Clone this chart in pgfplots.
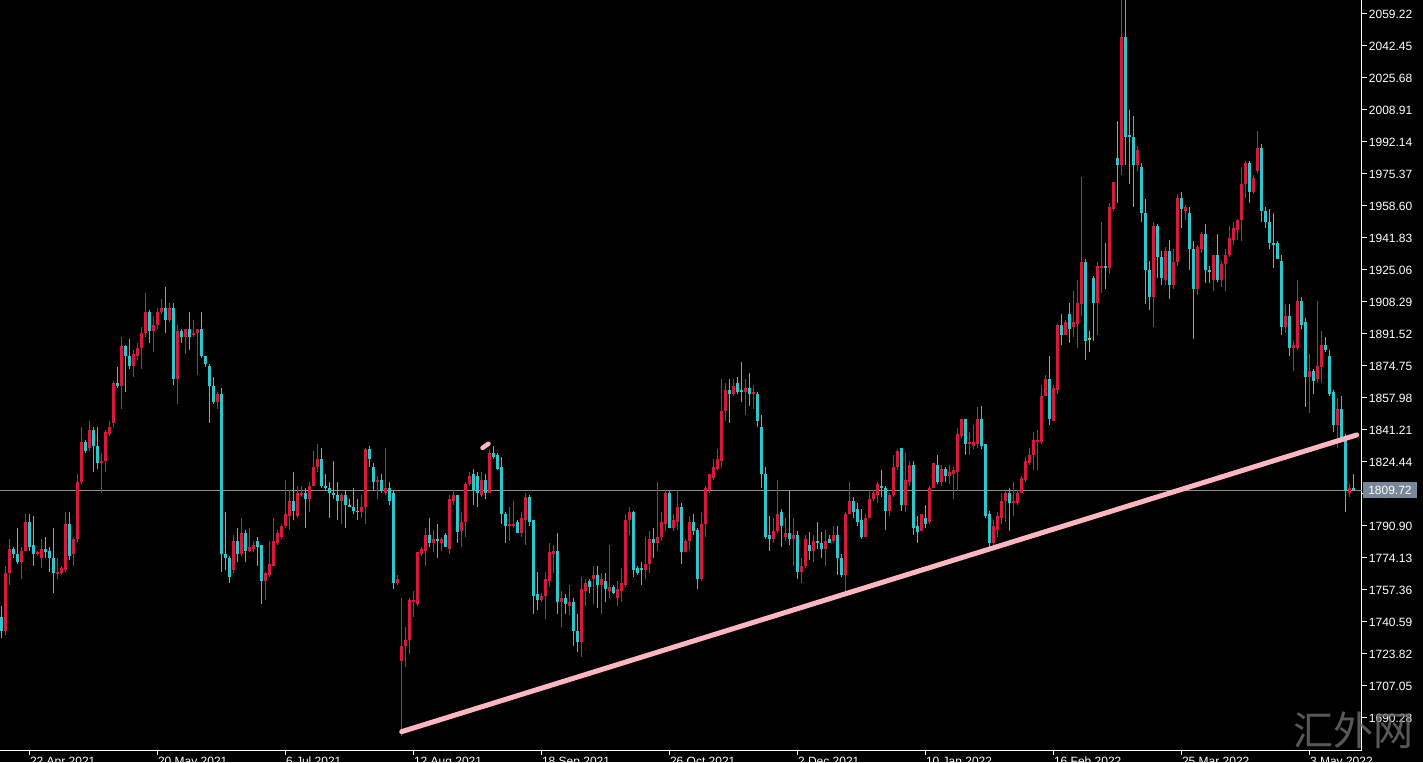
\documentclass[border=0pt]{standalone}
\usepackage{pgfplots}
\pgfplotsset{compat=1.18}
\usepackage{pgfplotstable}
\usepackage{fontspec}
\setmainfont{Liberation Sans}
\newfontfamily\cjk{Noto Sans CJK SC}

\definecolor{upc}{RGB}{215,25,60}
\definecolor{dnc}{RGB}{40,200,205}
\definecolor{dojic}{RGB}{90,220,90}
\definecolor{trend}{RGB}{255,182,193}
\definecolor{bidline}{RGB}{140,140,140}
\definecolor{bidbox}{RGB}{120,136,153}
\definecolor{wmark}{RGB}{110,110,110}

% daily candles, bar index i (0 = first bar on the left), open high low close
\pgfplotstableread{
i O H L C
1 1736 1770 1734 1766
2 1766 1784 1760 1779
5 1772 1780 1763 1778
6 1778 1797 1778 1793
9 1776 1778 1775 1777
10 1774 1784 1769 1779
14 1766 1774 1763 1767
15 1766 1770 1765 1769
16 1768 1798 1767 1792
18 1776 1785 1770 1784
19 1784 1818 1782 1814
20 1814 1843 1813 1835
22 1832 1846 1830 1841
25 1824 1829 1808 1825
26 1825 1841 1819 1840
27 1839 1846 1838 1843
28 1845 1867 1843 1866
30 1864 1890 1852 1885
33 1875 1883 1869 1881
34 1880 1887 1878 1884
35 1884 1895 1873 1892
36 1892 1913 1890 1903
38 1893 1901 1882 1896
39 1896 1905 1894 1903
40 1903 1910 1902 1905
42 1899 1908 1898 1905
44 1868 1896 1855 1893
46 1890 1894 1881 1894
48 1891 1899 1890 1892
49 1892 1894 1870 1894
54 1856 1861 1852 1860
58 1768 1786 1766 1783
60 1776 1795 1775 1787
62 1778 1790 1777 1780
63 1779 1783 1777 1781
66 1762 1767 1752 1766
67 1765 1783 1764 1771
68 1770 1795 1770 1783
69 1782 1789 1781 1787
70 1785 1792 1784 1791
71 1791 1815 1790 1797
72 1796 1810 1789 1804
74 1796 1812 1795 1808
75 1807 1812 1806 1808
77 1805 1814 1798 1812
78 1812 1830 1812 1822
79 1822 1834 1819 1826
85 1804 1808 1792 1807
90 1798 1807 1795 1801
91 1801 1832 1792 1831
94 1814 1817 1805 1815
96 1808 1832 1807 1811
99 1761 1765 1760 1763
100 1720 1753 1681 1728
101 1728 1738 1717 1731
102 1731 1753 1724 1752
103 1751 1757 1743 1752
104 1750 1777 1749 1777
105 1776 1780 1775 1779
106 1778 1790 1770 1786
108 1782 1789 1777 1784
110 1782 1785 1778 1784
112 1779 1807 1776 1805
113 1804 1810 1802 1807
115 1788 1798 1780 1793
116 1793 1814 1785 1813
117 1813 1819 1812 1817
120 1807 1819 1806 1815
122 1808 1831 1808 1829
127 1791 1801 1783 1792
128 1791 1804 1790 1792
130 1787 1798 1785 1795
131 1794 1808 1781 1806
135 1752 1756 1751 1754
136 1754 1767 1742 1763
137 1762 1782 1759 1777
138 1776 1781 1766 1778
140 1751 1757 1738 1753
142 1749 1760 1744 1751
145 1730 1764 1722 1758
146 1757 1763 1749 1761
148 1763 1770 1750 1765
150 1760 1766 1745 1763
152 1757 1781 1753 1759
154 1753 1762 1749 1758
155 1757 1769 1751 1761
156 1760 1797 1759 1794
157 1794 1801 1786 1798
161 1768 1785 1763 1771
162 1771 1788 1766 1784
164 1782 1814 1778 1785
165 1785 1798 1783 1793
166 1792 1810 1788 1808
168 1790 1797 1788 1794
169 1793 1810 1789 1801
171 1777 1784 1777 1783
172 1783 1796 1778 1793
175 1763 1798 1762 1792
176 1792 1812 1785 1811
177 1810 1818 1808 1818
178 1816 1826 1815 1822
179 1821 1831 1820 1826
180 1825 1868 1822 1851
181 1851 1866 1846 1862
183 1860 1868 1859 1864
186 1861 1868 1849 1863
188 1860 1865 1852 1861
193 1784 1795 1782 1788
194 1788 1815 1787 1797
196 1785 1795 1783 1787
198 1784 1795 1770 1786
200 1767 1774 1761 1770
201 1770 1786 1769 1784
203 1778 1786 1772 1783
206 1779 1789 1770 1783
208 1783 1791 1782 1786
211 1765 1798 1757 1797
212 1797 1814 1797 1804
216 1785 1797 1785 1795
217 1795 1810 1795 1805
218 1805 1810 1804 1808
219 1807 1814 1803 1813
222 1799 1808 1796 1807
223 1807 1828 1806 1822
224 1822 1831 1820 1830
226 1802 1829 1798 1815
227 1814 1825 1812 1823
230 1788 1797 1788 1797
232 1793 1812 1792 1811
233 1811 1824 1811 1824
235 1814 1823 1812 1821
237 1817 1823 1813 1819
238 1818 1822 1805 1820
239 1819 1842 1809 1839
240 1838 1847 1837 1847
242 1834 1840 1828 1835
243 1833 1844 1831 1835
244 1834 1853 1832 1847
248 1782 1794 1781 1791
249 1789 1798 1785 1796
250 1795 1808 1792 1804
251 1804 1810 1793 1808
253 1803 1814 1796 1804
254 1803 1810 1802 1808
255 1808 1817 1808 1816
256 1815 1827 1814 1825
257 1824 1832 1823 1828
258 1828 1840 1820 1836
259 1835 1841 1820 1836
260 1835 1865 1834 1859
261 1859 1870 1859 1868
263 1846 1865 1846 1863
264 1862 1897 1860 1896
266 1891 1899 1891 1898
268 1895 1914 1890 1898
269 1897 1920 1884 1908
270 1907 1974 1901 1929
274 1908 1929 1891 1927
275 1926 1950 1913 1927
277 1926 1960 1923 1958
278 1957 1971 1956 1971
280 1980 2070 1975 2047
284 1980 1990 1977 1988
288 1911 1950 1895 1948
291 1920 1937 1917 1935
293 1917 1936 1915 1929
294 1929 1965 1927 1963
296 1956 1959 1951 1958
299 1915 1938 1912 1937
300 1936 1945 1934 1944
303 1920 1933 1914 1933
305 1920 1930 1916 1928
306 1928 1936 1914 1933
307 1933 1948 1932 1942
308 1941 1950 1938 1947
309 1946 1952 1941 1951
310 1951 1979 1940 1970
311 1970 1982 1963 1981
313 1966 1975 1965 1973
314 1977 1998 1976 1989
321 1895 1907 1892 1901
323 1884 1888 1872 1886
324 1884 1920 1883 1909
327 1869 1881 1850 1872
329 1868 1909 1866 1875
330 1874 1893 1866 1886
334 1844 1858 1832 1852
337 1808 1813 1806 1811
}\upbars

\pgfplotstableread{
i O H L C
0 1743 1749 1732 1736
3 1779 1780 1774 1776
4 1776 1790 1771 1772
7 1793 1797 1778 1780
8 1781 1796 1770 1776
11 1779 1785 1774 1777
12 1778 1780 1767 1774
13 1774 1790 1756 1766
17 1792 1798 1773 1775
21 1835 1836 1829 1830
23 1841 1843 1819 1833
24 1833 1843 1821 1824
29 1866 1874 1863 1864
31 1885 1886 1861 1880
32 1880 1889 1873 1875
37 1903 1904 1887 1893
41 1905 1916 1892 1899
43 1905 1908 1865 1868
45 1893 1894 1887 1890
47 1894 1903 1883 1890
50 1894 1903 1879 1880
51 1880 1880 1874 1876
52 1875 1876 1845 1864
53 1864 1869 1855 1856
55 1860 1863 1767 1776
56 1776 1798 1768 1774
57 1774 1775 1761 1764
59 1783 1790 1772 1776
61 1787 1789 1772 1778
64 1783 1785 1770 1780
65 1781 1781 1750 1762
73 1804 1819 1794 1799
76 1808 1811 1790 1805
80 1826 1832 1811 1812
81 1812 1818 1809 1811
82 1811 1814 1795 1808
83 1808 1825 1805 1807
84 1807 1814 1794 1804
86 1807 1810 1790 1802
87 1802 1805 1801 1801
88 1801 1811 1797 1799
89 1799 1805 1794 1798
92 1831 1833 1822 1826
93 1822 1824 1810 1814
95 1815 1818 1808 1809
97 1811 1814 1802 1804
98 1808 1809 1758 1761
107 1786 1795 1780 1782
109 1784 1792 1774 1783
111 1786 1787 1780 1780
114 1807 1807 1782 1788
118 1818 1821 1802 1810
119 1817 1819 1801 1808
121 1815 1818 1805 1808
123 1829 1833 1826 1827
124 1828 1829 1820 1821
125 1822 1827 1792 1797
126 1797 1798 1782 1791
129 1793 1794 1787 1787
132 1806 1807 1791 1793
133 1794 1794 1745 1754
134 1755 1767 1747 1752
139 1778 1787 1745 1751
141 1753 1755 1745 1750
143 1751 1753 1728 1736
144 1736 1745 1725 1730
147 1762 1763 1756 1759
149 1765 1770 1748 1760
151 1762 1766 1751 1758
153 1759 1760 1755 1756
158 1798 1799 1764 1768
159 1769 1770 1765 1766
160 1769 1772 1760 1768
163 1784 1790 1774 1782
167 1808 1809 1790 1790
170 1801 1803 1771 1777
173 1793 1797 1786 1788
174 1789 1790 1758 1763
182 1862 1868 1845 1860
184 1866 1869 1860 1861
185 1862 1877 1856 1861
187 1863 1871 1854 1860
189 1860 1861 1843 1846
190 1843 1849 1811 1818
191 1818 1822 1784 1785
192 1786 1796 1778 1784
195 1798 1800 1780 1791
197 1787 1809 1781 1784
199 1786 1788 1763 1767
202 1781 1788 1773 1778
204 1783 1793 1779 1782
205 1782 1788 1774 1779
207 1784 1786 1782 1782
209 1786 1791 1765 1774
210 1774 1776 1764 1765
213 1804 1806 1795 1798
214 1800 1803 1791 1793
215 1794 1800 1784 1785
220 1812 1820 1806 1811
221 1811 1812 1789 1799
225 1832 1832 1799 1802
228 1823 1825 1786 1790
229 1791 1796 1782 1788
231 1795 1802 1790 1792
234 1823 1828 1813 1814
236 1821 1822 1814 1817
241 1847 1847 1828 1834
245 1847 1854 1831 1833
246 1834 1834 1795 1796
247 1797 1799 1780 1782
252 1808 1811 1788 1803
262 1868 1880 1844 1847
265 1896 1902 1886 1891
267 1902 1908 1887 1894
271 1929 1931 1878 1888
273 1921 1922 1888 1908
276 1927 1939 1915 1926
279 1984 2003 1960 1980
281 2047 2070 1980 1995
282 1996 2009 1970 1995
283 1995 2006 1958 1980
285 1979 1981 1950 1955
286 1955 1962 1907 1925
287 1925 1930 1904 1911
289 1948 1949 1921 1932
290 1932 1935 1917 1921
292 1935 1941 1910 1917
295 1963 1966 1947 1957
297 1955 1958 1925 1936
298 1936 1940 1889 1915
301 1944 1949 1918 1925
302 1925 1927 1918 1924
304 1933 1944 1919 1920
312 1981 1982 1960 1966
315 1989 1991 1950 1956
316 1956 1958 1947 1950
317 1950 1957 1936 1939
318 1939 1955 1926 1938
319 1939 1940 1931 1931
320 1930 1933 1891 1895
322 1901 1907 1880 1884
325 1909 1911 1894 1896
326 1898 1900 1853 1869
328 1872 1873 1860 1867
331 1886 1890 1882 1883
332 1880 1883 1859 1860
333 1861 1862 1840 1844
335 1852 1859 1836 1837
336 1836 1839 1798 1809
338 1811 1818 1809 1809.72
}\downbars

\pgfplotstableread{
i O H L C
272 1889 1893 1882 1889
}\dojibars

\pgfplotsset{
  wick/.style={draw=none, mark=none, forget plot,
    error bars/.cd, y dir=both, y explicit, error mark=none,
    error bar style={draw=#1, line width=1bp}},
  body/.style={draw=none, mark=none, forget plot,
    error bars/.cd, y dir=both, y explicit, error mark=none,
    error bar style={draw=#1, line width=3bp}},
}

\begin{document}
\begin{tikzpicture}[x=1bp,y=1bp]
\useasboundingbox (0,0) rectangle (1423,762);
\fill[black] (0,0) rectangle (1423,762);
\begin{axis}[
  at={(0bp,12bp)}, anchor=south west,
  scale only axis, width=1361.7bp, height=750bp,
  xmin=-0.325, xmax=340.1, ymin=1673.48, ymax=2066.56,
  axis x line*=bottom, axis y line*=right,
  axis line style={white, line width=1bp},
  tick style={white, line width=1bp},
  tick align=outside, major tick length=5bp,
  xtick={7,39,...,327},
  xticklabels={22 Apr 2021, 20 May 2021, 6 Jul 2021, 12 Aug 2021, 18 Sep 2021, 26 Oct 2021, 2 Dec 2021, 10 Jan 2022, 16 Feb 2022, 25 Mar 2022, 3 May 2022},
  ytick={1690.28,1707.05,1723.82,1740.59,1757.36,1774.13,1790.90,1807.67,1824.44,1841.21,1857.98,1874.75,1891.52,1908.29,1925.06,1941.83,1958.60,1975.37,1992.14,2008.91,2025.68,2042.45,2059.22},
  yticklabels={1690.28,1707.05,1723.82,1740.59,1757.36,1774.13,1790.90,1807.67,1824.44,1841.21,1857.98,1874.75,1891.52,1908.29,1925.06,1941.83,1958.60,1975.37,1992.14,2008.91,2025.68,2042.45,2059.22},
  xticklabel style={anchor=north west, inner sep=0pt, xshift=0.5bp, yshift=-1.5bp,
    font=\fontsize{12bp}{14bp}\selectfont, text=white},
  yticklabel style={anchor=west, inner sep=0pt, xshift=2bp,
    font=\fontsize{12bp}{14bp}\selectfont, text=white},
]
% bid line
\addplot[bidline, line width=0.8bp, forget plot] coordinates {(-1,1809.72) (341,1809.72)};

% wicks
\addplot[wick=upc] table[x=i, y expr=(\thisrow{H}+\thisrow{L})/2, y error expr=(\thisrow{H}-\thisrow{L})/2] {\upbars};
\addplot[wick=dnc] table[x=i, y expr=(\thisrow{H}+\thisrow{L})/2, y error expr=(\thisrow{H}-\thisrow{L})/2] {\downbars};
\addplot[wick=dojic] table[x=i, y expr=(\thisrow{H}+\thisrow{L})/2, y error expr=(\thisrow{H}-\thisrow{L})/2] {\dojibars};
% bodies
\addplot[body=upc] table[x=i, y expr=(\thisrow{O}+\thisrow{C})/2, y error expr={max(abs(\thisrow{C}-\thisrow{O})/2,0.3)}] {\upbars};
\addplot[body=dnc] table[x=i, y expr=(\thisrow{O}+\thisrow{C})/2, y error expr={max(abs(\thisrow{C}-\thisrow{O})/2,0.3)}] {\downbars};
\addplot[body=dojic] table[x=i, y expr=(\thisrow{O}+\thisrow{C})/2, y error expr={max(abs(\thisrow{C}-\thisrow{O})/2,0.3)}] {\dojibars};

% trend lines drawn on the chart
\addplot[trend, line width=5bp, line cap=round] coordinates {(100.1,1683.1) (338.85,1838.6)};
\addplot[trend, line width=4.5bp, line cap=round] coordinates {(120.3,1831.8) (121.8,1834.0)};

\coordinate (bid) at (axis cs:340.1,1809.72);
\end{axis}
\node[fill=bidbox, text=white, anchor=west, inner xsep=5bp, inner ysep=0pt,
  minimum height=16bp, font=\fontsize{12bp}{14bp}\selectfont] at ([xshift=1.3bp]bid) {1809.72};
\node[text=wmark, opacity=0.8, inner sep=0pt, font=\cjk\fontsize{40bp}{40bp}\selectfont] at (1353,32) {汇外网};
\end{tikzpicture}
\end{document}
